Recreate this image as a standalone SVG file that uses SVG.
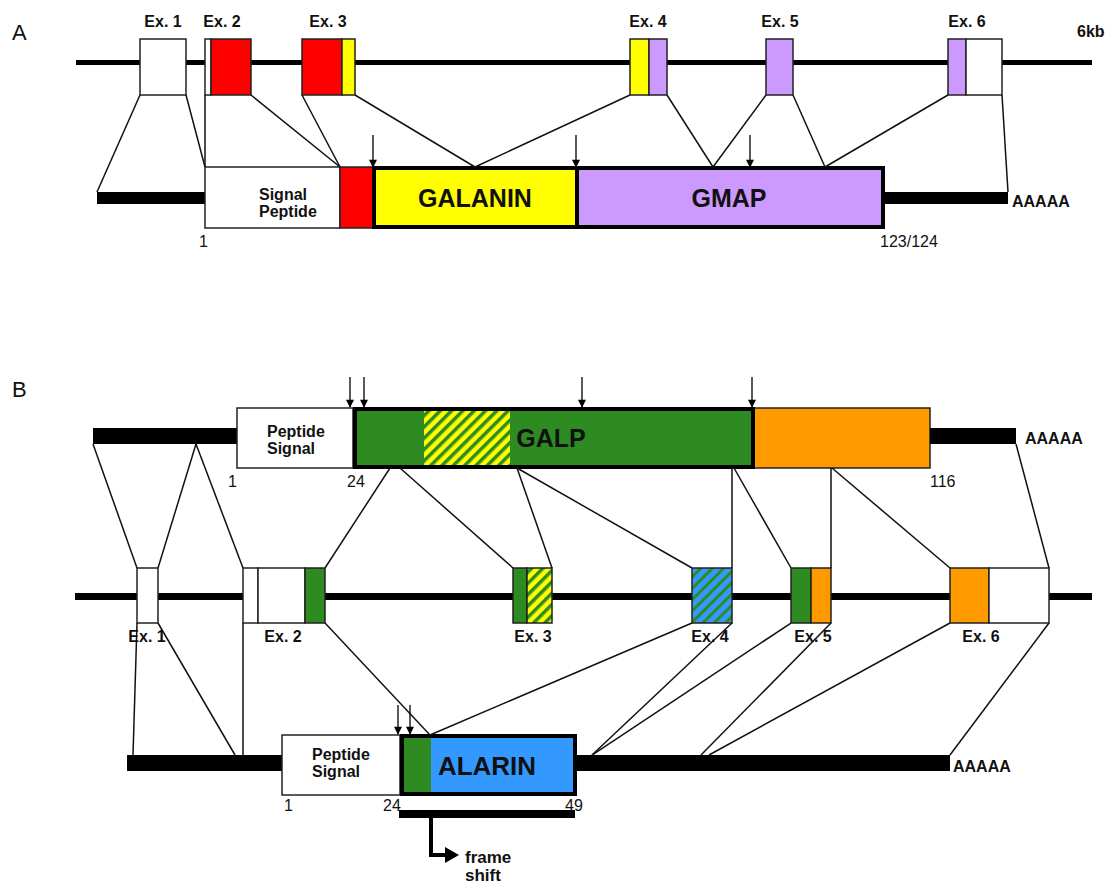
<svg xmlns="http://www.w3.org/2000/svg" width="1116" height="883" viewBox="0 0 1116 883">
<defs>
<style>
.lbl{font-family:"Liberation Sans",Arial,sans-serif;font-weight:bold;font-size:16px;fill:#111}
.num{font-family:"Liberation Sans",Arial,sans-serif;font-size:16px;fill:#111}
.big{font-family:"Liberation Sans",Arial,sans-serif;font-weight:bold;font-size:25px;fill:#111;text-anchor:middle}
.pan{font-family:"Liberation Sans",Arial,sans-serif;font-size:22px;fill:#111}
.box{stroke:#222;stroke-width:1.5}
.thick{fill:none;stroke:#000;stroke-width:4}
.bar{fill:#000}
.ln{stroke:#111;stroke-width:1.5;fill:none}
.arr{stroke:#000;stroke-width:1.3;fill:none;marker-end:url(#ah)}
</style>
<marker id="ah" viewBox="0 0 10 10" refX="9" refY="5" markerWidth="10" markerHeight="8" markerUnits="userSpaceOnUse" orient="auto">
<path d="M0,0 L10,5 L0,10 z" fill="#000"/>
</marker>
<pattern id="hy" patternUnits="userSpaceOnUse" width="8" height="8" patternTransform="rotate(45)">
<rect width="8" height="8" fill="#FFFF00"/><rect width="3.5" height="8" fill="#2E8B22"/>
</pattern>
<pattern id="hb" patternUnits="userSpaceOnUse" width="8" height="8" patternTransform="rotate(45)">
<rect width="8" height="8" fill="#3399FF"/><rect width="3" height="8" fill="#2E8B22"/>
</pattern>
</defs>
<rect width="1116" height="883" fill="#fff"/>

<g id="panelA-labels">
<text class="pan" x="12" y="40">A</text>
<text class="lbl" x="1077" y="37">6kb</text>
</g>

<g id="A-genomic">
<rect class="bar" x="76" y="60" width="1016" height="5"/>
</g>
<g id="A-ex1"><rect class="box" x="140" y="39" width="46" height="56" fill="#fff"/><text class="lbl" x="163" y="27" text-anchor="middle">Ex. 1</text></g>
<g id="A-ex2"><rect class="box" x="205" y="39" width="6" height="56" fill="#fff"/><rect class="box" x="211" y="39" width="40" height="56" fill="#FF0000"/><text class="lbl" x="222" y="27" text-anchor="middle">Ex. 2</text></g>
<g id="A-ex3"><rect class="box" x="302" y="39" width="40" height="56" fill="#FF0000"/><rect class="box" x="342" y="39" width="13" height="56" fill="#FFFF00"/><text class="lbl" x="328" y="27" text-anchor="middle">Ex. 3</text></g>
<g id="A-ex4"><rect class="box" x="630" y="39" width="19" height="56" fill="#FFFF00"/><rect class="box" x="649" y="39" width="18" height="56" fill="#CC99FF"/><text class="lbl" x="648" y="27" text-anchor="middle">Ex. 4</text></g>
<g id="A-ex5"><rect class="box" x="766" y="39" width="27" height="56" fill="#CC99FF"/><text class="lbl" x="780" y="27" text-anchor="middle">Ex. 5</text></g>
<g id="A-ex6"><rect class="box" x="948" y="39" width="18" height="56" fill="#CC99FF"/><rect class="box" x="966" y="39" width="36" height="56" fill="#fff"/><text class="lbl" x="967" y="27" text-anchor="middle">Ex. 6</text></g>

<g id="A-mrna">
<rect class="bar" x="97" y="192" width="108" height="12"/>
<rect class="box" x="205" y="167" width="135" height="61" fill="#fff"/>
<text class="lbl" x="259" y="200">Signal</text>
<text class="lbl" x="259" y="217">Peptide</text>
<rect class="box" x="340" y="167" width="34" height="61" fill="#FF0000"/>
<rect x="374" y="169" width="203" height="57" fill="#FFFF00"/>
<rect x="577" y="169" width="306" height="57" fill="#CC99FF"/>
<line x1="577" y1="168" x2="577" y2="228" stroke="#000" stroke-width="4"/>
<rect class="thick" x="374" y="168" width="509" height="59"/>
<text class="big" x="475" y="207">GALANIN</text>
<text class="big" x="729" y="207">GMAP</text>
<rect class="bar" x="883" y="192" width="125" height="12"/>
<text class="lbl" x="1012" y="207">AAAAA</text>
<text class="num" x="199" y="247">1</text>
<text class="num" x="880" y="247">123/124</text>
</g>

<g id="A-connectors">
<line class="ln" x1="140" y1="95" x2="97" y2="192"/>
<line class="ln" x1="186" y1="95" x2="205" y2="167"/>
<line class="ln" x1="205" y1="95" x2="205" y2="167"/>
<line class="ln" x1="251" y1="95" x2="340" y2="167"/>
<line class="ln" x1="302" y1="95" x2="340" y2="167"/>
<line class="ln" x1="355" y1="95" x2="475" y2="167"/>
<line class="ln" x1="630" y1="95" x2="475" y2="167"/>
<line class="ln" x1="667" y1="95" x2="713" y2="167"/>
<line class="ln" x1="766" y1="95" x2="713" y2="167"/>
<line class="ln" x1="793" y1="95" x2="825" y2="167"/>
<line class="ln" x1="948" y1="95" x2="825" y2="167"/>
<line class="ln" x1="1002" y1="95" x2="1008" y2="192"/>
<line class="arr" x1="373" y1="135" x2="373" y2="167"/>
<line class="arr" x1="576" y1="135" x2="576" y2="167"/>
<line class="arr" x1="750" y1="135" x2="750" y2="167"/>
</g>

<g id="panelB-labels">
<text class="pan" x="12" y="397">B</text>
</g>

<g id="B-galp-mrna">
<rect class="bar" x="93" y="428" width="144" height="16"/>
<rect class="box" x="237" y="408" width="116" height="60" fill="#fff"/>
<text class="lbl" x="267" y="437">Peptide</text>
<text class="lbl" x="267" y="454">Signal</text>
<rect x="353" y="408" width="400" height="60" fill="#2E8B22"/>
<rect x="424" y="410" width="86" height="56" fill="url(#hy)"/>
<rect class="box" x="753" y="408" width="177" height="60" fill="#FF9900"/>
<rect class="thick" x="355" y="409" width="398" height="58"/>
<text class="big" x="551" y="447">GALP</text>
<rect class="bar" x="930" y="428" width="86" height="16"/>
<text class="lbl" x="1025" y="444">AAAAA</text>
<text class="num" x="228" y="487">1</text>
<text class="num" x="347" y="487">24</text>
<text class="num" x="930" y="487">116</text>
</g>

<g id="B-genomic">
<rect class="bar" x="75" y="593" width="1017" height="7"/>
</g>
<g id="B-ex1"><rect class="box" x="137" y="568" width="21" height="55" fill="#fff"/><text class="lbl" x="147" y="642" text-anchor="middle">Ex. 1</text></g>
<g id="B-ex2"><rect class="box" x="243" y="568" width="15" height="55" fill="#fff"/><rect class="box" x="258" y="568" width="47" height="55" fill="#fff"/><rect class="box" x="305" y="568" width="20" height="55" fill="#2E8B22"/><text class="lbl" x="283" y="642" text-anchor="middle">Ex. 2</text></g>
<g id="B-ex3"><rect class="box" x="513" y="568" width="14" height="55" fill="#2E8B22"/><rect class="box" x="527" y="568" width="25" height="55" fill="url(#hy)"/><text class="lbl" x="533" y="642" text-anchor="middle">Ex. 3</text></g>
<g id="B-ex4"><rect class="box" x="692" y="568" width="40" height="55" fill="url(#hb)"/><text class="lbl" x="710" y="642" text-anchor="middle">Ex. 4</text></g>
<g id="B-ex5"><rect class="box" x="791" y="568" width="20" height="55" fill="#2E8B22"/><rect class="box" x="811" y="568" width="20" height="55" fill="#FF9900"/><text class="lbl" x="813" y="642" text-anchor="middle">Ex. 5</text></g>
<g id="B-ex6"><rect class="box" x="950" y="568" width="39" height="55" fill="#FF9900"/><rect class="box" x="989" y="568" width="60" height="55" fill="#fff"/><text class="lbl" x="981" y="642" text-anchor="middle">Ex. 6</text></g>

<g id="B-alarin-mrna">
<rect class="bar" x="127" y="755" width="155" height="16"/>
<rect class="box" x="282" y="735" width="118" height="60" fill="#fff"/>
<text class="lbl" x="312" y="760">Peptide</text>
<text class="lbl" x="312" y="777">Signal</text>
<rect x="400" y="735" width="31" height="60" fill="#2E8B22"/>
<rect x="431" y="735" width="144" height="60" fill="#3399FF"/>
<rect class="thick" x="402" y="736" width="173" height="58"/>
<text class="big" x="487" y="775" style="font-size:26px">ALARIN</text>
<rect class="bar" x="575" y="755" width="375" height="16"/>
<text class="lbl" x="953" y="772">AAAAA</text>
<text class="num" x="284" y="811">1</text>
<text class="num" x="383" y="811">24</text>
<text class="num" x="565" y="811">49</text>
<rect class="bar" x="399" y="810" width="176" height="8"/>
<text class="lbl" x="465" y="863" style="font-size:17px">frame</text>
<text class="lbl" x="465" y="881" style="font-size:17px">shift</text>
</g>

<g id="B-connectors">
<line class="ln" x1="93" y1="444" x2="137" y2="568"/>
<line class="ln" x1="196" y1="444" x2="158" y2="568"/>
<line class="ln" x1="196" y1="444" x2="243" y2="568"/>
<line class="ln" x1="390" y1="468" x2="325" y2="568"/>
<line class="ln" x1="400" y1="468" x2="513" y2="568"/>
<line class="ln" x1="517" y1="468" x2="552" y2="568"/>
<line class="ln" x1="517" y1="468" x2="692" y2="568"/>
<line class="ln" x1="732" y1="468" x2="732" y2="568"/>
<line class="ln" x1="734" y1="468" x2="791" y2="568"/>
<line class="ln" x1="831" y1="468" x2="831" y2="568"/>
<line class="ln" x1="832" y1="468" x2="950" y2="568"/>
<line class="ln" x1="1016" y1="444" x2="1049" y2="568"/>
<line class="ln" x1="137" y1="623" x2="133" y2="755"/>
<line class="ln" x1="158" y1="623" x2="235" y2="755"/>
<line class="ln" x1="243" y1="623" x2="243" y2="755"/>
<line class="ln" x1="325" y1="623" x2="430" y2="735"/>
<line class="ln" x1="692" y1="623" x2="430" y2="735"/>
<line class="ln" x1="732" y1="623" x2="592" y2="755"/>
<line class="ln" x1="791" y1="623" x2="592" y2="755"/>
<line class="ln" x1="831" y1="623" x2="701" y2="755"/>
<line class="ln" x1="950" y1="623" x2="709" y2="755"/>
<line class="ln" x1="1049" y1="623" x2="950" y2="755"/>
<line class="arr" x1="350" y1="377" x2="350" y2="407"/>
<line class="arr" x1="364" y1="377" x2="364" y2="407"/>
<line class="arr" x1="582" y1="377" x2="582" y2="407"/>
<line class="arr" x1="752" y1="377" x2="752" y2="407"/>
<line class="arr" x1="398" y1="705" x2="398" y2="734"/>
<line class="arr" x1="410" y1="705" x2="410" y2="734"/>
<path d="M431,818 V855 H446" fill="none" stroke="#000" stroke-width="4"/>
<path d="M445,847 L459,855 L445,863 z" fill="#000"/>
</g>
</svg>
